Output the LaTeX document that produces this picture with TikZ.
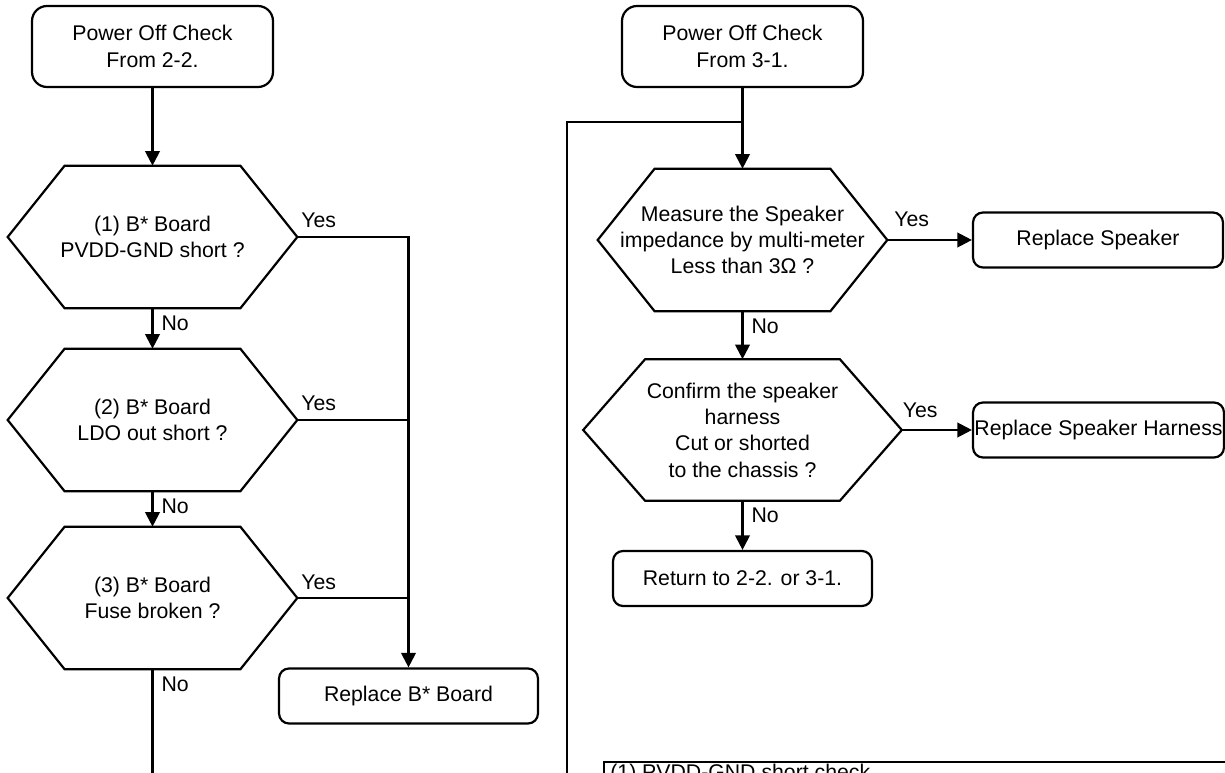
\documentclass[tikz,border=0pt]{standalone}
\usepackage{fontspec}
\setmainfont{Liberation Sans}
\usetikzlibrary{positioning,arrows.meta}
\newcommand{\fcfont}{\fontsize{12.1pt}{15pt}\selectfont}
% hexagonal decision frame round a plain node: name, corner inset
\newcommand{\hexframe}[2]{%
  \draw[fcline] (#1.west) -- ([xshift=#2]#1.north west) -- ([xshift=-#2]#1.north east)
    -- (#1.east) -- ([xshift=-#2]#1.south east) -- ([xshift=#2]#1.south west) -- cycle;}
\tikzset{
  fcline/.style={line width=1.25pt},
  fcarrow/.style={fcline, -{Triangle[length=2.9mm, width=2.9mm]}},
  startbox/.style={draw, fcline, rounded corners=0.3cm, minimum width=4.82cm,
    minimum height=1.62cm, inner sep=0pt, align=center},
  actbox/.style={draw, fcline, rounded corners=0.2cm, minimum width=5.18cm,
    minimum height=1.1cm, inner sep=0pt, align=center},
  hexq/.style={minimum width=5.78cm, minimum height=2.84cm, inner sep=0pt, align=center},
  yeslbl/.style={anchor=base west, inner sep=0pt},
  nolbl/.style={anchor=north west, inner sep=0pt, xshift=0.16cm, yshift=-0.12cm},
}
\begin{document}
\begin{tikzpicture}[x=0.02cm, y=-0.02cm, every node/.style={font=\fcfont}]
\clip (0,0) rectangle (1225,773);
\fill[white] (0,0) rectangle (1225,773);

% ================= B* board checks =================
\node[startbox] (pwrA) at (152.5,46.5) {Power Off Check\\From 2-2.};
\node[hexq] (pvdd) at (152.5,237) {(1) B* Board\\PVDD-GND short ?};
\node[hexq] (ldo)  at (152.5,420) {(2) B* Board\\LDO out short ?};
\node[hexq] (fuse) at (152.5,598) {(3) B* Board\\Fuse broken ?};
\node[actbox] (repB) at (408.5,696) {Replace B* Board};
\foreach \q in {pvdd,ldo,fuse} \hexframe{\q}{1.14cm};
\coordinate (fuseEnd) at (152.5,790);

\draw[fcarrow] (pwrA) -- (pvdd);
\draw[fcarrow] (pvdd) -- node[nolbl, pos=0] {No} (ldo);
\draw[fcarrow] (ldo) -- node[nolbl, pos=0] {No} (fuse);
\draw[fcline] (fuse) -- node[nolbl, pos=0] {No} (fuseEnd);
\draw[fcarrow] (pvdd.east) -- node[yeslbl, pos=0, xshift=0.06cm, yshift=0.18cm] {Yes}
  (pvdd.east -| repB.north) -- (repB.north);
\draw[fcline] (ldo.east) -- node[yeslbl, pos=0, xshift=0.06cm, yshift=0.18cm] {Yes}
  (ldo.east -| repB.north);
\draw[fcline] (fuse.east) -- node[yeslbl, pos=0, xshift=0.06cm, yshift=0.18cm] {Yes}
  (fuse.east -| repB.north);

% ================= speaker checks =================
\node[startbox] (pwrB) at (742.5,46.5) {Power Off Check\\From 3-1.};
\node[hexq] (imp) at (742.5,240) {Measure the Speaker\\impedance by multi-meter\\Less than 3Ω ?};
\node[hexq, minimum width=6.36cm, minimum height=2.82cm] (harn) at (742.5,430)
  {Confirm the speaker\\harness\\Cut or shorted\\to the chassis ?};
\node[actbox, minimum width=5cm] (repS) at (1098,240) {Replace Speaker};
\node[actbox, minimum width=5.02cm] (repH) at (1098.5,430) {Replace Speaker Harness};
\node[actbox] (ret) at (742.5,578.5) {Return to 2-2. or 3-1.};
\hexframe{imp}{1.14cm}
\hexframe{harn}{1.24cm}
\coordinate (loopTop) at (567,122);
\coordinate (loopBot) at (567,790);

\draw[fcarrow] (pwrB) -- (imp);
\draw[fcline] (loopBot) -- (loopTop) -- (loopTop -| imp.north);
\draw[fcarrow] (imp.east) -- node[yeslbl, pos=0, xshift=0.12cm, yshift=0.26cm] {Yes} (repS.west);
\draw[fcarrow] (imp) -- node[nolbl, pos=0] {No} (harn);
\draw[fcarrow] (harn.east) -- node[yeslbl, pos=0, yshift=0.26cm] {Yes} (repH.west);
\draw[fcarrow] (harn) -- node[nolbl, pos=0] {No} (ret);

% ================= notes (cut at the page edge) =================
\draw[fcline] (604,790) -- (604,762) -- (1240,762);
\node[anchor=base west, inner sep=0pt] (note) at (610,780) {(1) PVDD-GND short check};
\end{tikzpicture}
\end{document}
